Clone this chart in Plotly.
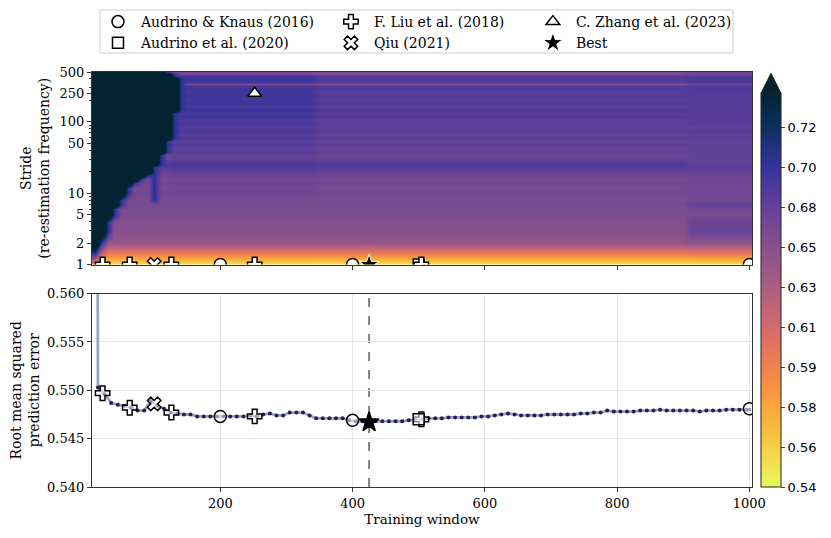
import numpy as np
import plotly.graph_objects as go
from plotly.subplots import make_subplots

# ---------------- data ----------------
windows = list(range(10, 1001, 10))          # heatmap columns (training window)
strides = [1, 2, 3, 4, 5, 6, 7, 8, 10, 12, 14, 16, 18, 20, 23, 26, 30, 34, 38, 43, 48,
           54, 60, 67, 75, 84, 94, 105, 118, 132, 148, 165, 185, 207, 232, 260, 290,
           315, 335, 360, 400, 440, 470, 500]

# typical RMSE level of each stride row (windows 350-900)
level_mid = [0.546, 0.642, 0.651, 0.655, 0.658, 0.661, 0.665, 0.662, 0.668, 0.664, 0.670,
             0.665, 0.671, 0.675, 0.687, 0.690, 0.676, 0.672, 0.679, 0.674, 0.681,
             0.676, 0.684, 0.678, 0.685, 0.679, 0.686, 0.681, 0.688, 0.683, 0.690,
             0.684, 0.690, 0.685, 0.690, 0.686, 0.690, 0.686, 0.660, 0.687, 0.690,
             0.686, 0.664, 0.662]
# shift for windows 130-340
early_shift = [0, 0, 0, 0, 0, 0, 0, 0, 0.003, 0.003, 0.003, 0.003, 0.003, 0.003, 0.003,
               0.003, 0.007, 0.007, 0.007, 0.007, 0.007, 0.007, 0.007, 0.007, 0.007,
               0.007, 0.007, 0.008, 0.008, 0.008, 0.008, 0.008, 0.008, 0.008, 0.008,
               0.008, 0.008, 0.008, 0.004, 0.008, 0.008, 0.008, 0.004, 0.003]
# shift for windows >= 910
late_shift = [0, 0.004, 0.026, 0.018, 0.006, 0.004, 0.016, 0.004, 0.001, 0.004, 0.000,
              0.004, 0.000, 0.002, -0.004, -0.006, 0.004, 0.006, 0.002, 0.005, 0.001,
              0.004, -0.001, 0.004, 0.000, 0.003, -0.001, 0.003, -0.002, 0.002, -0.002,
              0.002, -0.002, 0.002, -0.001, 0.002, 0.000, 0.002, 0.012, 0.002, 0.000,
              0.002, 0.012, 0.010]
# window below which the RMSE exceeds the colour range (dark region)
dark_until = [0, 15, 25, 30, 35, 40, 45, 48, 52, 60, 70, 78, 88, 95, 100, 104, 106, 108,
              112, 115, 118, 120, 122, 123, 124, 125, 126, 126, 128, 130, 132, 133, 135,
              136, 136, 137, 137, 138, 138, 137, 135, 130, 122, 118]
notch_window = 100
notch_strides = (8, 20)

# colour bar ticks
cbar_ticks = [0.54, 0.56, 0.58, 0.59, 0.61, 0.63, 0.65, 0.68, 0.70, 0.72]

# stride 1 RMSE by training window
line_windows = [14] + list(range(15, 996, 10)) + [1000]
line_rmse = [0.5850,
             0.5503, 0.5496, 0.5487, 0.5485, 0.5484, 0.5482, 0.5479, 0.5479, 0.5489, 0.5484,
             0.5481, 0.5477, 0.5476, 0.5475, 0.5475, 0.5473, 0.5473, 0.5473, 0.5473, 0.5473,
             0.5473, 0.5473, 0.5473, 0.5474, 0.5473, 0.5475, 0.5476, 0.5474, 0.5474, 0.5477,
             0.5477, 0.5477, 0.5474, 0.5471, 0.5471, 0.5471, 0.5471, 0.5471, 0.5469, 0.5468,
             0.5468, 0.5467, 0.5468, 0.5468, 0.5468, 0.5468, 0.5468, 0.5469, 0.5470, 0.5470,
             0.5471, 0.5471, 0.5471, 0.5472, 0.5472, 0.5472, 0.5472, 0.5472, 0.5473, 0.5473,
             0.5474, 0.5475, 0.5476, 0.5475, 0.5474, 0.5474, 0.5474, 0.5474, 0.5475, 0.5475,
             0.5475, 0.5475, 0.5475, 0.5476, 0.5476, 0.5477, 0.5477, 0.5479, 0.5478, 0.5478,
             0.5478, 0.5478, 0.5479, 0.5479, 0.5479, 0.5480, 0.5479, 0.5479, 0.5479, 0.5479,
             0.5479, 0.5478, 0.5479, 0.5479, 0.5479, 0.5480, 0.5480, 0.5480, 0.5480,
             0.5480]

# reference configurations
ak_windows, ak_rmse = [200, 400, 1000], [0.5473, 0.5469, 0.5481]
a20_windows, a20_rmse = [500], [0.5470]
liu_windows, liu_rmse = [22, 63, 126, 252, 504], [0.5497, 0.5482, 0.5477, 0.5473, 0.5470]
qiu_windows, qiu_rmse = [100], [0.5486]
zhang_windows, zhang_strides = [252], [252]
best_windows, best_rmse = [425], [0.5467]

# ---------------- heatmap matrix ----------------
W = np.array(windows)
Z = np.empty((len(strides), len(windows)))
for i, s in enumerate(strides):
    row = np.full(len(W), level_mid[i], dtype=float)
    row[(W >= 130) & (W < 350)] += early_shift[i]
    row[W >= 910] += late_shift[i]
    glow = (W >= dark_until[i]) & (W < dark_until[i] + 10)
    row[glow] = np.maximum(row[glow], 0.705)
    if notch_strides[0] <= s <= notch_strides[1]:
        row[W == notch_window] = max(row[W == notch_window][0], 0.705)
    row[W < dark_until[i]] = 0.80
    Z[i] = row
Z[0] = np.interp(W, line_windows, line_rmse)

tick_pos = np.arange(len(cbar_ticks), dtype=float)
P = np.interp(Z, cbar_ticks, tick_pos)
P = np.where(Z > cbar_ticks[-1], tick_pos[-1] + (Z - cbar_ticks[-1]) / 0.02, P)
cmax = 9.85

# ---------------- figure ----------------
SERIF = "DejaVu Serif"
fig = make_subplots(rows=2, cols=1, shared_xaxes=False, vertical_spacing=0.07)

fig.add_trace(go.Heatmap(
    x=windows, y=strides, z=P, zmin=0, zmax=cmax, zsmooth="best",
    colorscale="thermal_r", showscale=True, hoverinfo="skip",
    colorbar=dict(x=1.0136, xanchor="left", thickness=20, len=0.949, lenmode="fraction",
                  y=0, yanchor="bottom", tickvals=list(tick_pos),
                  ticktext=[f"{t:.2f}" for t in cbar_ticks], ticks="outside", ticklen=4,
                  outlinewidth=1, outlinecolor="#222", xpad=0, ypad=0,
                  tickfont=dict(family="DejaVu Sans", size=13, color="black")),
), row=1, col=1)

top_line = dict(color="black", width=1.5)
def top_marker(sym, size=12, fill="white", line=top_line):
    return dict(symbol=sym, size=size, color=fill, line=line)

one = lambda n: [1] * n
fig.add_trace(go.Scatter(x=ak_windows, y=one(len(ak_windows)), mode="markers",
                         name="Audrino & Knaus (2016)", legend="legend",
                         marker=top_marker("circle")), row=1, col=1)
fig.add_trace(go.Scatter(x=a20_windows, y=one(len(a20_windows)), mode="markers",
                         name="Audrino et al. (2020)", legend="legend",
                         marker=top_marker("square", size=11)), row=1, col=1)
fig.add_trace(go.Scatter(x=liu_windows, y=one(len(liu_windows)), mode="markers",
                         name="F. Liu et al. (2018)", legend="legend2",
                         marker=top_marker("cross")), row=1, col=1)
fig.add_trace(go.Scatter(x=qiu_windows, y=one(len(qiu_windows)), mode="markers",
                         name="Qiu (2021)", legend="legend2",
                         marker=top_marker("x")), row=1, col=1)
fig.add_trace(go.Scatter(x=zhang_windows, y=zhang_strides, mode="markers",
                         name="C. Zhang et al. (2023)", legend="legend3",
                         marker=top_marker("triangle-up", size=12)), row=1, col=1)
fig.add_trace(go.Scatter(x=best_windows, y=one(len(best_windows)), mode="markers",
                         name="Best", legend="legend3",
                         marker=top_marker("star", size=15, fill="black",
                                           line=dict(color="white", width=1))), row=1, col=1)

# bottom panel
fig.add_trace(go.Scatter(x=line_windows, y=line_rmse, mode="lines+markers",
                         line=dict(color="rgba(130,150,175,0.85)", width=2.8),
                         marker=dict(color="#2b1b5c", size=4), showlegend=False,
                         hoverinfo="skip"), row=2, col=1)
bfill = "rgba(255,255,255,0.55)"
def bot_marker(sym, size=12, fill=bfill):
    return dict(symbol=sym, size=size, color=fill, line=dict(color="black", width=1.5))
for xs, ys, sym, sz, fill in [
        (ak_windows, ak_rmse, "circle", 12, bfill),
        (liu_windows, liu_rmse, "cross", 12, bfill),
        (a20_windows, a20_rmse, "square", 11, bfill),
        (qiu_windows, qiu_rmse, "x", 12, bfill),
        (best_windows, best_rmse, "star", 15, "black")]:
    fig.add_trace(go.Scatter(x=xs, y=ys, mode="markers", showlegend=False,
                             marker=bot_marker(sym, sz, fill)), row=2, col=1)

fig.add_shape(type="line", xref="x2", yref="y2 domain", x0=best_windows[0], x1=best_windows[0],
              y0=0, y1=1, line=dict(color="grey", width=2, dash="dash"), layer="below")

# extend-max arrow on the colour bar
x0p, x1p = 1.0136, 1.0439
fig.add_shape(type="path", xref="paper", yref="paper",
              path=f"M {x0p},0.9487 L {x1p},0.9487 L {(x0p + x1p) / 2},0.997 Z",
              fillcolor="rgb(3,35,51)", line=dict(color="#222", width=1))

# legend frame
fig.add_shape(type="rect", xref="paper", yref="paper", x0=0.0121, x1=0.9712,
              y0=1.0458, y1=1.1494, line=dict(color="#cccccc", width=1),
              fillcolor="rgba(0,0,0,0)")

axis_common = dict(showline=True, linecolor="#333", linewidth=1.2, mirror=True,
                   ticks="outside", ticklen=4, tickcolor="#333", automargin=False,
                   tickfont=dict(family=SERIF, size=13, color="black"))
fig.update_xaxes(range=[6, 1004], tickvals=[200, 400, 600, 800, 1000], **axis_common)
fig.update_xaxes(showticklabels=False, showgrid=False, row=1, col=1)
fig.update_xaxes(showgrid=True, gridcolor="#e6e6e6", row=2, col=1,
                 title=dict(text="Training window", font=dict(family=SERIF, size=13.5),
                            standoff=4))
fig.update_yaxes(type="log", range=[0, np.log10(500)], row=1, col=1,
                 tickvals=[1, 2, 5, 10, 50, 100, 250, 500], showgrid=False,
                 minor=dict(ticks="outside", ticklen=2, tickcolor="#333",
                            tickvals=[3, 4, 6, 7, 8, 9, 20, 30, 40, 60, 70, 80, 90,
                                      200, 300, 400]),
                 title=dict(text="Stride<br>(re-estimation frequency)",
                            font=dict(family=SERIF, size=14), standoff=6),
                 **axis_common)
fig.update_yaxes(range=[0.540, 0.560], dtick=0.005, tickformat=".3f", row=2, col=1,
                 showgrid=True, gridcolor="#e6e6e6",
                 title=dict(text="Root mean squared<br>prediction error",
                            font=dict(family=SERIF, size=14), standoff=8),
                 **axis_common)
fig.update_layout(yaxis=dict(domain=[0.536, 1.0]), yaxis2=dict(domain=[0.0, 0.466]))

leg_common = dict(orientation="v", yanchor="top", y=1.159, xanchor="left",
                  bgcolor="rgba(0,0,0,0)", borderwidth=0, itemwidth=36,
                  font=dict(family=SERIF, size=14, color="black"), tracegroupgap=0)
fig.update_layout(
    width=823, height=530, margin=dict(l=84, r=79, t=64, b=51, autoexpand=False),
    paper_bgcolor="white", plot_bgcolor="white",
    font=dict(family=SERIF, size=13, color="black"),
    legend=dict(x=0.0045, **leg_common),
    legend2=dict(x=0.3575, **leg_common),
    legend3=dict(x=0.6635, **leg_common),
)

fig.write_html("out.html")
